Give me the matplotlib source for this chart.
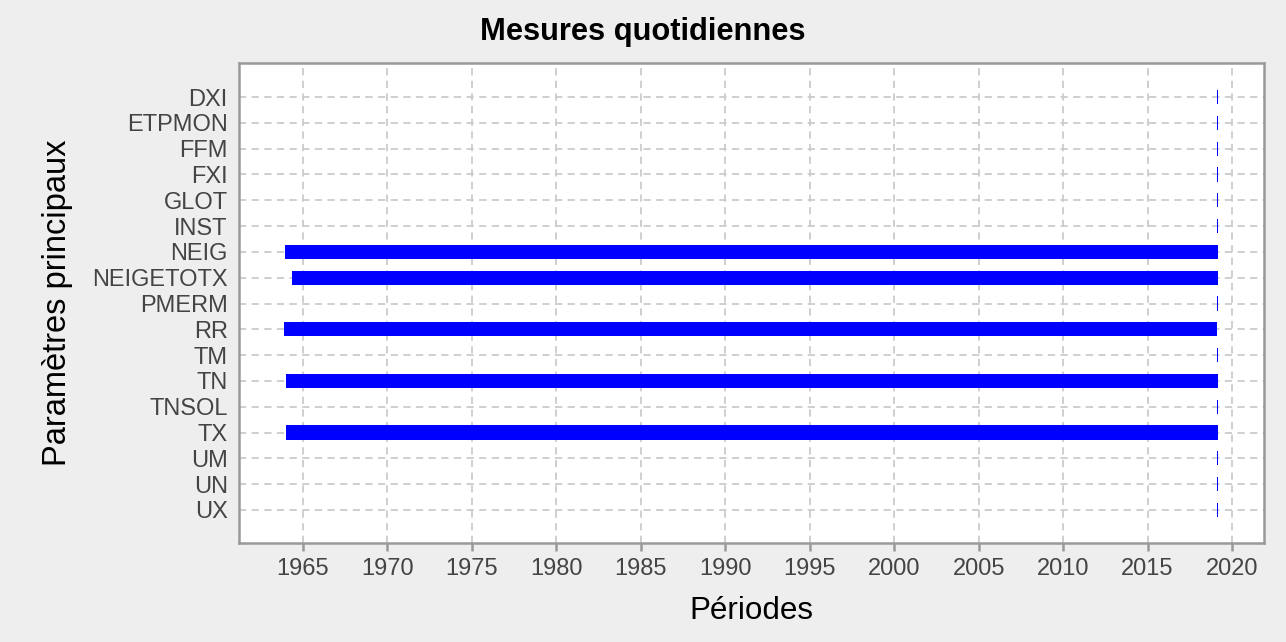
import matplotlib
matplotlib.use("Agg")
import matplotlib.pyplot as plt

plt.rcParams['font.family'] = ['Liberation Sans', 'DejaVu Sans']

# parameter names, top to bottom
params = ["DXI", "ETPMON", "FFM", "FXI", "GLOT", "INST", "NEIG", "NEIGETOTX",
          "PMERM", "RR", "TM", "TN", "TNSOL", "TX", "UM", "UN", "UX"]
# start / end of each measurement period (decimal years)
starts = [2019.12, 2019.12, 2019.12, 2019.12, 2019.12, 2019.12, 1963.93, 1964.35,
          2019.12, 1963.87, 2019.12, 1963.99, 2019.12, 1963.99, 2019.12, 2019.12, 2019.12]
ends = [2019.18, 2019.18, 2019.18, 2019.18, 2019.18, 2019.18, 2019.17, 2019.17,
        2019.18, 2019.11, 2019.18, 2019.17, 2019.18, 2019.17, 2019.18, 2019.18, 2019.18]
year_ticks = list(range(1965, 2021, 5))

BG = "#EEEEEE"
SPINE = "#999999"

fig = plt.figure(figsize=(12.86, 6.42), dpi=100, facecolor=BG)
ax = fig.add_axes([0.1858, 0.1542, 0.7971, 0.7477])
ax.set_facecolor("white")

ypos = list(range(len(params)))
widths = [e - s for s, e in zip(starts, ends)]
ax.barh(ypos, widths, left=starts, height=0.55, color="#0000FF", zorder=3)

ax.set_yticks(ypos)
ax.set_yticklabels(params)
ax.set_xticks(year_ticks)
ax.set_xlim(1961.21, 2021.89)
ax.set_ylim(17.28, -1.32)

ax.grid(True, color="#CCCCCC", linestyle=(0, (4, 3)), linewidth=1.3, zorder=0)
ax.set_axisbelow(True)

for sp in ax.spines.values():
    sp.set_color(SPINE)
    sp.set_linewidth(1.8)

ax.tick_params(axis="y", length=0, pad=8, labelsize=17, labelcolor="#444444")
ax.tick_params(axis="x", length=6, width=1.8, color=SPINE, pad=5,
               labelsize=17, labelcolor="#444444")

fig.suptitle("Mesures quotidiennes", x=0.5, y=0.950, fontsize=22.2,
             fontweight="bold", va="center")
ax.set_ylabel("Paramètres principaux", fontsize=23.5, labelpad=14)
ax.set_xlabel("Périodes", fontsize=22.6, labelpad=11)

fig.savefig("out.png", dpi=100, facecolor=BG)
